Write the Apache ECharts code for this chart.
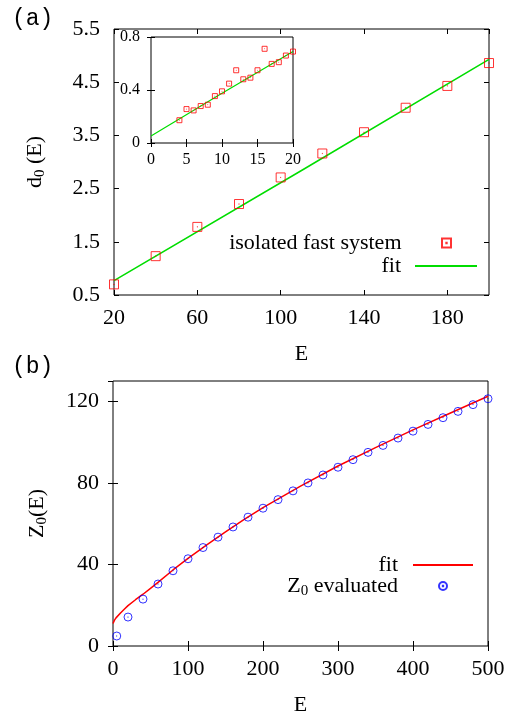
<!DOCTYPE html>
<html>
<head>
<meta charset="utf-8">
<script src="https://cdn.jsdelivr.net/npm/echarts@6/dist/echarts.min.js"></script>
<style>html,body{margin:0;padding:0;background:#fff;}#c{width:528px;height:717px;}</style>
</head>
<body>
<div id="c"></div>
<script>
// ---- panel (a) main data ----
const aE = [20, 40, 60, 80, 100, 120, 140, 160, 180, 200];
const aD = [0.70, 1.23, 1.78, 2.21, 2.71, 3.16, 3.56, 4.02, 4.43, 4.86];
const aFitE = [20, 110, 200];
const aFitD = [0.77, 2.84, 4.93];
// ---- panel (a) inset data ----
const inE = [4, 5, 6, 7, 8, 9, 10, 11, 12, 13, 14, 15, 16, 17, 18, 19, 20];
const inD = [0.172, 0.256, 0.246, 0.279, 0.289, 0.354, 0.39, 0.448, 0.549, 0.481, 0.493, 0.549, 0.711, 0.597, 0.61, 0.66, 0.69];
const inFitE = [0, 10, 20];
const inFitD = [0.053, 0.375, 0.69];
// ---- panel (b) data ----
const bE = [5, 20, 40, 60, 80, 100, 120, 140, 160, 180, 200, 220, 240, 260, 280, 300, 320, 340, 360, 380, 400, 420, 440, 460, 480, 500];
const bZ = [4.9, 14.2, 23.0, 30.4, 36.9, 42.8, 48.3, 53.4, 58.4, 63.2, 67.6, 71.8, 76.1, 80.0, 83.9, 87.7, 91.4, 95.0, 98.4, 102.0, 105.4, 108.7, 112.0, 115.1, 118.4, 121.3];
const bFitE = [0, 1, 2, 4, 6, 10, 15, 20, 30, 40, 50, 60, 80, 100, 125, 150, 175, 200, 250, 300, 350, 400, 450, 500];
const bFitZ = [11.0, 11.9, 12.7, 13.8, 14.7, 16.2, 18.0, 19.8, 22.7, 25.4, 28.3, 31.2, 37.3, 43.0, 49.6, 56.0, 62.1, 67.9, 78.4, 88.3, 97.3, 106.0, 114.3, 122.5];
// ---- tick settings ----
const aXTicks = {min: 20, max: 200, interval: 40};
const aYTicks = {min: 0.5, max: 5.5, interval: 1};
const inXTicks = {min: 0, max: 20, interval: 5};
const inYTicks = {min: 0, max: 0.8, interval: 0.4};
const bXTicks = {min: 0, max: 500, interval: 100};
const bYTicks = {min: 0, max: 130, interval: 40};

const zip = (xs, ys) => xs.map((x, i) => [x, ys[i]]);
const SERIF = 'Liberation Serif';
const BLACK = '#000';
const RED = '#ff0000';
const GREEN = '#00dd00';
const BLUE = '#0000ff';
const SQ = 'path://M0,0L10,0L10,10L0,10Z M4.8,4.8L5.2,4.8L5.2,5.2L4.8,5.2Z';
const CI = 'path://M5,0A5,5,0,1,1,5,10A5,5,0,1,1,5,0Z M4.8,4.8L5.2,4.8L5.2,5.2L4.8,5.2Z';

function mainAxis(type, gridIndex, pos, ticks, opts) {
  opts = opts || {};
  const labels = opts.labels !== false;
  return Object.assign({
    type: 'value', gridIndex: gridIndex, position: pos,
    min: ticks.min, max: ticks.max, interval: ticks.interval,
    splitLine: {show: false},
    axisLine: {show: false},
    axisTick: {show: true, inside: true, length: opts.tickLen || 5, lineStyle: {color: BLACK, width: 1}},
    axisLabel: {show: labels, color: BLACK, fontFamily: SERIF, fontSize: opts.fontSize || 22,
      margin: opts.margin || 12, showMaxLabel: opts.showMax !== false, showMinLabel: true}
  }, opts.extra || {});
}

const subRich = (fs) => ({
  n: {fontFamily: SERIF, fontSize: fs, color: BLACK},
  s: {fontFamily: SERIF, fontSize: Math.round(fs * 0.68), color: BLACK, padding: [Math.round(fs * 0.45), 0, 0, 0]}
});
const legText = (pr) => ({fontFamily: SERIF, fontSize: 22, color: BLACK, padding: [0, pr, 0, 0], rich: subRich(22)});

const option = {
  animation: false,
  backgroundColor: '#fff',
  grid: [
    {left: 114, top: 29, width: 375, height: 266, show: true, borderColor: BLACK, borderWidth: 1, backgroundColor: 'rgba(0,0,0,0)'},
    {left: 151, top: 37, width: 142, height: 106, show: true, borderColor: BLACK, borderWidth: 1, backgroundColor: '#fff', z: 3},
    {left: 113, top: 381, width: 375, height: 265, show: true, borderColor: BLACK, borderWidth: 1, backgroundColor: 'rgba(0,0,0,0)'}
  ],
  xAxis: [
    mainAxis('x', 0, 'bottom', aXTicks, {showMax: false, extra: {name: 'E', nameLocation: 'middle', nameGap: 48,
      nameTextStyle: {fontFamily: SERIF, fontSize: 22, color: BLACK}}}),
    mainAxis('x', 0, 'top', aXTicks, {labels: false}),
    mainAxis('x', 1, 'bottom', inXTicks, {fontSize: 16, margin: 9, tickLen: 4, extra: {z: 4}}),
    mainAxis('x', 1, 'top', inXTicks, {labels: false, tickLen: 4, extra: {z: 4}}),
    mainAxis('x', 2, 'bottom', bXTicks, {extra: {name: 'E', nameLocation: 'middle', nameGap: 48,
      nameTextStyle: {fontFamily: SERIF, fontSize: 22, color: BLACK}}}),
    mainAxis('x', 2, 'top', bXTicks, {labels: false})
  ],
  yAxis: [
    mainAxis('y', 0, 'left', aYTicks, {margin: 14, extra: {name: '{n|d}{s|0}{n| (E)}', nameLocation: 'middle', nameGap: 66,
      nameTextStyle: {fontFamily: SERIF, fontSize: 22, color: BLACK, rich: subRich(22)}}}),
    mainAxis('y', 0, 'right', aYTicks, {labels: false}),
    mainAxis('y', 1, 'left', inYTicks, {fontSize: 16, margin: 11, tickLen: 4, extra: {z: 4}}),
    mainAxis('y', 1, 'right', inYTicks, {labels: false, tickLen: 4, extra: {z: 4}}),
    mainAxis('y', 2, 'left', bYTicks, {margin: 14, showMax: false, extra: {name: '{n|Z}{s|0}{n|(E)}', nameLocation: 'middle', nameGap: 63,
      nameTextStyle: {fontFamily: SERIF, fontSize: 22, color: BLACK, rich: subRich(22)}}}),
    mainAxis('y', 2, 'right', bYTicks, {labels: false, showMax: false})
  ],
  legend: [
    {data: ['isolated fast system'], right: 76, top: 232, padding: 0, itemWidth: 62, itemHeight: 9, align: 'right',
      selectedMode: false, textStyle: legText(9)},
    {data: ['fitA'], right: 50, top: 255, padding: 0, itemWidth: 62, itemHeight: 9, align: 'right',
      selectedMode: false, formatter: () => 'fit', itemStyle: {opacity: 0, color: 'rgba(0,0,0,0)', borderWidth: 0},
      textStyle: legText(9)},
    {data: ['fitB'], right: 54, top: 554, padding: 0, itemWidth: 60, itemHeight: 8, align: 'right',
      selectedMode: false, formatter: () => 'fit', itemStyle: {opacity: 0, color: 'rgba(0,0,0,0)', borderWidth: 0},
      textStyle: legText(10)},
    {data: ['Z0 evaluated'], right: 80, top: 575, padding: 0, itemWidth: 60, itemHeight: 8, align: 'right',
      selectedMode: false, formatter: () => '{n|Z}{s|0}{n| evaluated}', textStyle: legText(10)}
  ],
  graphic: [
    {type: 'text', left: 12, top: 7, style: {text: '(a)', font: '23px "Liberation Mono"', fill: BLACK}},
    {type: 'text', left: 12, top: 355, style: {text: '(b)', font: '23px "Liberation Mono"', fill: BLACK}}
  ],
  series: [
    {name: 'fitA', type: 'line', xAxisIndex: 0, yAxisIndex: 0, data: zip(aFitE, aFitD), symbol: 'none',
      lineStyle: {color: GREEN, width: 1.5}, itemStyle: {color: GREEN}, z: 2},
    {name: 'isolated fast system', type: 'scatter', xAxisIndex: 0, yAxisIndex: 0, data: zip(aE, aD),
      symbol: SQ, symbolSize: 9, clip: false,
      itemStyle: {color: 'rgba(0,0,0,0)', borderColor: RED, borderWidth: 1}, z: 3},
    {name: 'insetFit', type: 'line', xAxisIndex: 2, yAxisIndex: 2, data: zip(inFitE, inFitD), symbol: 'none',
      lineStyle: {color: GREEN, width: 1.2}, itemStyle: {color: GREEN}, z: 5},
    {name: 'insetPts', type: 'scatter', xAxisIndex: 2, yAxisIndex: 2, data: zip(inE, inD),
      symbol: SQ, symbolSize: 5, clip: false,
      itemStyle: {color: 'rgba(0,0,0,0)', borderColor: RED, borderWidth: 1}, z: 6},
    {name: 'fitB', type: 'line', xAxisIndex: 4, yAxisIndex: 4, data: zip(bFitE, bFitZ), symbol: 'none',
      smooth: false,
      lineStyle: {color: RED, width: 1.5}, itemStyle: {color: RED}, z: 2},
    {name: 'Z0 evaluated', type: 'scatter', xAxisIndex: 4, yAxisIndex: 4, data: zip(bE, bZ),
      symbol: CI, symbolSize: 8, clip: false,
      itemStyle: {color: 'rgba(0,0,0,0)', borderColor: BLUE, borderWidth: 1}, z: 3}
  ]
};

const chart = echarts.init(document.getElementById('c'), null, {renderer: 'canvas'});
chart.setOption(option);
</script>
</body>
</html>
